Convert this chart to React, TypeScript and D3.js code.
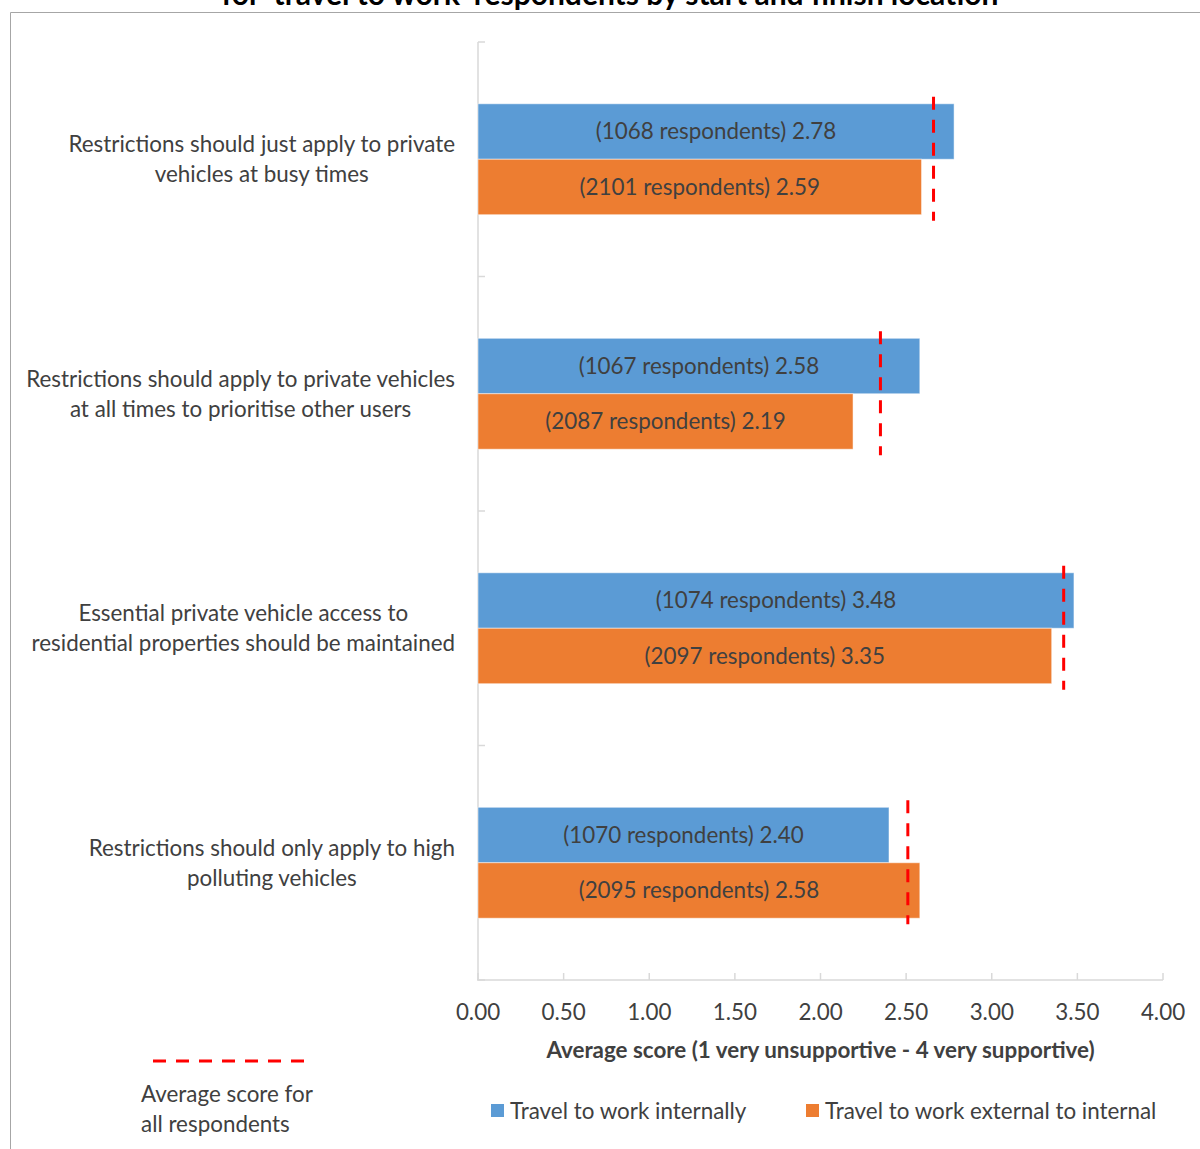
import React, { useEffect, useRef } from "react";
import * as d3 from "d3";

const categories = [
  ["Restrictions should just apply to private", "vehicles at busy times"],
  ["Restrictions should apply to private vehicles", "at all times to prioritise other users"],
  ["Essential private vehicle access to", "residential properties should be maintained"],
  ["Restrictions should only apply to high", "polluting vehicles"],
];
const seriesNames = ["Travel to work internally", "Travel to work external to internal"];
const seriesColors = ["#5B9BD5", "#ED7D31"];
const internalScores = [2.78, 2.58, 3.48, 2.4];
const internalCounts = [1068, 1067, 1074, 1070];
const externalScores = [2.59, 2.19, 3.35, 2.58];
const externalCounts = [2101, 2087, 2097, 2095];
const allAverage = [2.66, 2.35, 3.42, 2.51];
const xTicks = [0, 0.5, 1, 1.5, 2, 2.5, 3, 3.5, 4];
const titleText = "for \u2018travel to work\u2019 respondents by start and finish location";
const axisTitle = "Average score (1 very unsupportive - 4 very supportive)";
const avgLegend = ["Average score for", "all respondents"];

const FONT = "Lato, 'Open Sans', sans-serif";
const TXT = "#404040";
const FS = 22.4;

export default function App() {
  const ref = useRef<SVGSVGElement>(null);

  useEffect(() => {
    const svg = d3.select(ref.current);
    svg.selectAll("*").remove();

    const x = d3.scaleLinear().domain([0, 4]).range([478, 1163]);
    const ids = categories.map((_, i) => String(i));
    const y = d3.scaleBand<string>().domain(ids).range([42, 980]).paddingInner(0.527).paddingOuter(0.2635);
    const ys = d3.scaleBand<string>().domain(["0", "1"]).range([0, y.bandwidth()]);
    const step = y.step();

    // frame
    svg.append("path").attr("d", "M10.5,1149 V12.5 H1200").attr("fill", "none").attr("stroke", "#a6a6a6").attr("stroke-width", 1);

    // title (clipped at top as in the reference)
    svg.append("text").attr("x", 610).attr("y", 5).attr("text-anchor", "middle")
      .attr("font-family", FONT).attr("font-weight", "bold").attr("font-size", 30).attr("fill", "#000").text(titleText);

    // axes
    const axisColor = "#d9d9d9";
    svg.append("line").attr("x1", 478).attr("x2", 478).attr("y1", 42).attr("y2", 980).attr("stroke", axisColor).attr("stroke-width", 1.5);
    svg.append("line").attr("x1", 477).attr("x2", 1163).attr("y1", 980).attr("y2", 980).attr("stroke", axisColor).attr("stroke-width", 1.5);
    for (let i = 0; i <= categories.length; i++) {
      const yy = 42 + step * i;
      svg.append("line").attr("x1", 478).attr("x2", 485).attr("y1", yy).attr("y2", yy).attr("stroke", axisColor).attr("stroke-width", 1.5);
    }
    xTicks.forEach((t) => {
      svg.append("line").attr("x1", x(t)).attr("x2", x(t)).attr("y1", 973).attr("y2", 980).attr("stroke", axisColor).attr("stroke-width", 1.5);
      svg.append("text").attr("x", x(t)).attr("y", 1012).attr("dy", "0.35em").attr("text-anchor", "middle")
        .attr("font-family", FONT).attr("font-size", FS).attr("fill", TXT).text(t.toFixed(2));
    });
    svg.append("text").attr("x", (x(0) + x(4)) / 2).attr("y", 1050).attr("dy", "0.35em").attr("text-anchor", "middle")
      .attr("font-family", FONT).attr("font-weight", "bold").attr("font-size", FS).attr("fill", TXT).text(axisTitle);

    // bars
    const series = [
      { scores: internalScores, counts: internalCounts },
      { scores: externalScores, counts: externalCounts },
    ];
    ids.forEach((id, ci) => {
      const y0 = y(id)!;
      series.forEach((s, si) => {
        const by = y0 + ys(String(si))!;
        const bh = ys.bandwidth();
        svg.append("rect").attr("x", x(0)).attr("y", by).attr("width", x(s.scores[ci]) - x(0)).attr("height", bh)
          .attr("fill", seriesColors[si]).attr("stroke", "#ffffff").attr("stroke-opacity", 0.5).attr("stroke-width", 1);
        svg.append("text").attr("x", (x(0) + x(s.scores[ci])) / 2).attr("y", by + bh / 2).attr("dy", "0.35em")
          .attr("text-anchor", "middle").attr("font-family", FONT).attr("font-size", FS).attr("fill", TXT)
          .text(`(${s.counts[ci]} respondents) ${s.scores[ci].toFixed(2)}`);
      });
      // average dashed line
      svg.append("line").attr("x1", x(allAverage[ci])).attr("x2", x(allAverage[ci]))
        .attr("y1", y0 - 7).attr("y2", y0 + y.bandwidth() + 6)
        .attr("stroke", "#ff0000").attr("stroke-width", 3).attr("stroke-dasharray", "13,10");

      // category label: block right-aligned at 455, lines centered in block
      const lines = categories[ci];
      const cy = y0 + y.bandwidth() / 2;
      const g = svg.append("g");
      const texts = lines.map((ln, li) =>
        g.append("text").attr("y", cy + (li - (lines.length - 1) / 2) * 30).attr("dy", "0.35em")
          .attr("text-anchor", "middle").attr("font-family", FONT).attr("font-size", FS).attr("fill", TXT).text(ln)
      );
      const maxW = d3.max(texts, (t) => (t.node() as SVGTextElement).getComputedTextLength()) || 0;
      texts.forEach((t) => t.attr("x", 455 - maxW / 2));
    });

    // legend: average line
    svg.append("line").attr("x1", 153).attr("x2", 307).attr("y1", 1061).attr("y2", 1061)
      .attr("stroke", "#ff0000").attr("stroke-width", 3).attr("stroke-dasharray", "13,10");
    avgLegend.forEach((ln, i) => {
      svg.append("text").attr("x", 141).attr("y", 1094 + i * 30).attr("dy", "0.35em")
        .attr("font-family", FONT).attr("font-size", FS).attr("fill", TXT).text(ln);
    });
    // legend: series
    const legX = [491, 806];
    seriesNames.forEach((n, i) => {
      svg.append("rect").attr("x", legX[i]).attr("y", 1104).attr("width", 13).attr("height", 13).attr("fill", seriesColors[i]);
      svg.append("text").attr("x", legX[i] + 19).attr("y", 1111).attr("dy", "0.35em")
        .attr("font-family", FONT).attr("font-size", FS).attr("fill", TXT).text(n);
    });
  }, []);

  return (
    <svg ref={ref} width={1200} height={1149} style={{ position: "absolute", left: 0, top: 0, background: "#fff" }} />
  );
}
